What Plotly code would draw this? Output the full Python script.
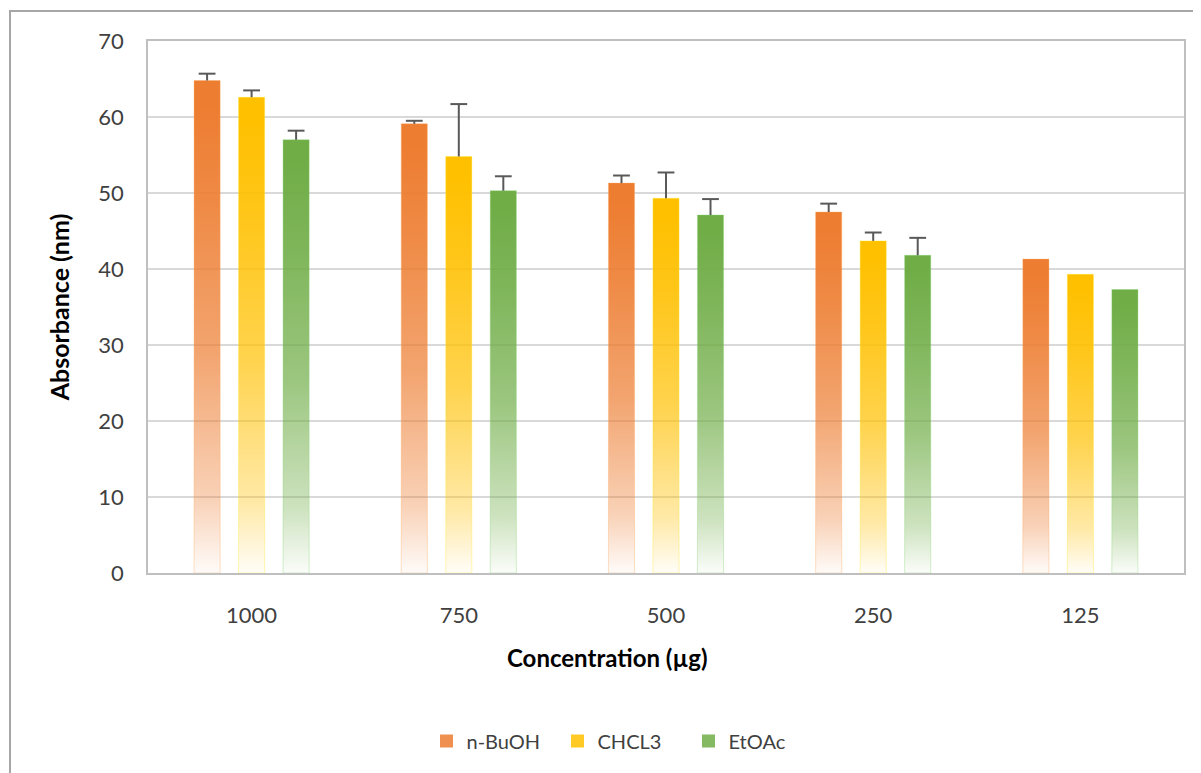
import plotly.graph_objects as go

categories = ["1000", "750", "500", "250", "125"]
series_names = ["n-BuOH", "CHCL3", "EtOAc"]
nbuoh = [64.8, 59.1, 51.3, 47.5, 41.3]
chcl3 = [62.6, 54.8, 49.3, 43.7, 39.3]
etoac = [57.0, 50.3, 47.1, 41.8, 37.3]
nbuoh_err = [0.9, 0.4, 1.0, 1.1, None]
chcl3_err = [0.9, 6.9, 3.4, 1.1, None]
etoac_err = [1.2, 1.9, 2.1, 2.3, None]

values = [nbuoh, chcl3, etoac]
errors = [nbuoh_err, chcl3_err, etoac_err]
rgb = [(237, 125, 49), (255, 192, 0), (112, 173, 71)]

spacing = 0.2148
half_w = 0.063

fig = go.Figure()

def scale(c):
    r, g, b = c
    stops = [(0.0, 0.03), (0.15, 0.35), (0.45, 0.70), (0.75, 0.9), (0.95, 1.0), (1.0, 1.0)]
    return [[p, f"rgba({r},{g},{b},{a})"] for p, a in stops]

for j, name in enumerate(series_names):
    r, g, b = rgb[j]
    for i, cat in enumerate(categories):
        xc = i + (j - 1) * spacing
        v = values[j][i]
        fig.add_trace(go.Scatter(
            x=[xc - half_w, xc + half_w, xc + half_w, xc - half_w, xc - half_w],
            y=[0, 0, v, v, 0],
            mode="lines",
            fill="toself",
            fillgradient=dict(type="vertical", colorscale=scale(rgb[j]), start=0, stop=v),
            line=dict(width=1, color=f"rgba({min(r+20,255)},{min(g+40,255)},{min(b+40,255)},0.35)"),
            name=name,
            showlegend=False,
            hoverinfo="skip",
        ))

# error bars: stem (no caps) from bar top, plus a cap marker at the end
for j, name in enumerate(series_names):
    xs, ys, es, tops = [], [], [], []
    for i in range(len(categories)):
        e = errors[j][i]
        if e is None:
            continue
        xs.append(i + (j - 1) * spacing)
        ys.append(values[j][i])
        es.append(e)
        tops.append(values[j][i] + e)
    fig.add_trace(go.Scatter(
        x=xs, y=ys, mode="markers",
        marker=dict(size=1, color="rgba(0,0,0,0)"),
        error_y=dict(type="data", array=es, arrayminus=[0] * len(es), symmetric=False,
                     color="#595959", thickness=2, width=0),
        showlegend=False, hoverinfo="skip",
    ))
    fig.add_trace(go.Scatter(
        x=xs, y=tops, mode="markers",
        marker=dict(symbol="line-ew", size=12, line=dict(color="#595959", width=2)),
        showlegend=False, hoverinfo="skip",
    ))

# legend entries (square swatches)
for j, name in enumerate(series_names):
    r, g, b = rgb[j]
    fig.add_trace(go.Scatter(
        x=[None], y=[None], mode="markers", name=name,
        marker=dict(symbol="square", size=13, color=f"rgba({r},{g},{b},0.85)"),
        showlegend=True,
    ))

font_family = "Lato, Open Sans, sans-serif"
W, H = 1193, 765
L, R, T, B = 140, 17, 33, 200
pw, ph = W - L - R, H - T - B

fig.add_shape(type="rect", xref="paper", yref="paper",
              x0=(2 - L) / pw, x1=(W + 10 - L) / pw,
              y0=-(B + 10) / ph, y1=1 + (T - 3) / ph,
              line=dict(color="#A6A6A6", width=2), layer="below")

fig.add_annotation(text="<b>Concentration (µg)</b>", xref="paper", yref="paper",
                   x=0.444, y=-(657 - 573) / 532, xanchor="center", yanchor="middle",
                   showarrow=False, font=dict(size=24, color="#000000", family=font_family))

fig.update_layout(
    width=W, height=H,
    margin=dict(l=L, r=R, t=T, b=B, autoexpand=False),
    paper_bgcolor="white", plot_bgcolor="white",
    font=dict(family=font_family, size=22, color="#404040"),
    showlegend=True,
    legend=dict(orientation="h", x=0.4585, xanchor="center", y=-0.316, yanchor="middle",
                font=dict(size=20, color="#404040"), itemwidth=30, entrywidth=86,
                traceorder="normal"),
    xaxis=dict(
        range=[-0.5, 4.5], tickvals=list(range(len(categories))), ticktext=categories,
        showgrid=False, zeroline=False, showline=True, mirror=True,
        linecolor="#BFBFBF", linewidth=1.5, ticks="", ticklabelstandoff=22,
        tickfont=dict(size=22, color="#404040"),
    ),
    yaxis=dict(
        range=[0, 70], dtick=10, showgrid=True, gridcolor="#D9D9D9", gridwidth=1.5,
        zeroline=False, showline=True, mirror=True, linecolor="#BFBFBF", linewidth=1.5,
        ticks="", ticklabelstandoff=18,
        tickfont=dict(size=22, color="#404040"),
        title=dict(text="<b>Absorbance (nm)</b>", font=dict(size=25, color="#000000"), standoff=22),
    ),
)

fig.write_html("out.html")
